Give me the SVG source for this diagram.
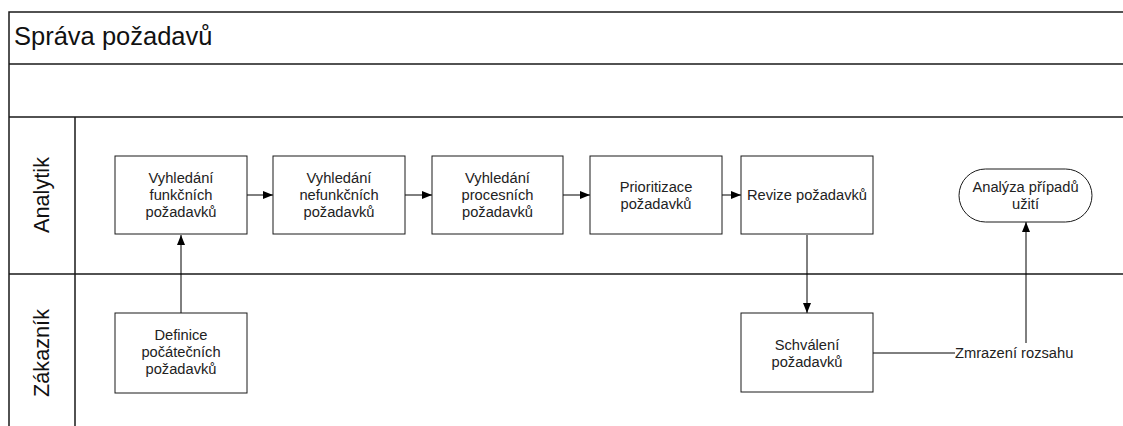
<svg xmlns="http://www.w3.org/2000/svg" width="1123" height="426" viewBox="0 0 1123 426">
  <style>
    .frame { fill: none; stroke: #1a1a1a; stroke-width: 1.5; }
    .box { fill: #ffffff; stroke: #1a1a1a; stroke-width: 1; }
    .t { font-family: "Liberation Sans", Arial, sans-serif; font-size: 14.7px; fill: #222222; text-anchor: middle; }
    .lane { font-family: "Liberation Sans", Arial, sans-serif; font-size: 21.7px; fill: #111111; text-anchor: middle; }
    .title { font-family: "Liberation Sans", Arial, sans-serif; font-size: 25.5px; fill: #111111; }
    .edge { fill: none; stroke: #000000; stroke-width: 1; }
  </style>
  <defs>
    <marker id="arrow" viewBox="0 0 10 8" refX="10" refY="4" markerWidth="10" markerHeight="8" markerUnits="userSpaceOnUse" orient="auto">
      <path d="M0,0 L10,4 L0,8 Z" fill="#000000"/>
    </marker>
  </defs>

  <rect width="1123" height="426" fill="#ffffff"/>

  <!-- pool frame and lanes -->
  <g id="pool">
    <path class="frame" d="M9,426 V12 H1123 M9,64 H1123 M9,117 H1123 M9,274 H1123 M75,117 V426"/>
    <text class="title" x="14" y="45">Správa požadavů</text>
    <text class="lane" transform="translate(49,195) rotate(-90)">Analytik</text>
    <text class="lane" transform="translate(49,353) rotate(-90)">Zákazník</text>
  </g>

  <!-- connectors -->
  <g id="connectors">
    <path class="edge" d="M247,195 H273" marker-end="url(#arrow)"/>
    <path class="edge" d="M405,195 H432" marker-end="url(#arrow)"/>
    <path class="edge" d="M563,195 H590" marker-end="url(#arrow)"/>
    <path class="edge" d="M722,195 H741" marker-end="url(#arrow)"/>
    <path class="edge" d="M181,313 V235" marker-end="url(#arrow)"/>
    <path class="edge" d="M807,235 V313" marker-end="url(#arrow)"/>
    <path class="edge" d="M873,353 H955"/>
    <path class="edge" d="M1026,343 V222" marker-end="url(#arrow)"/>
    <text class="t" x="955" y="358" style="text-anchor:start">Zmrazení rozsahu</text>
  </g>

  <g id="n1">
    <rect class="box" x="115" y="156" width="132" height="78"/>
    <text class="t" x="181" y="183">Vyhledání</text>
    <text class="t" x="181" y="200">funkčních</text>
    <text class="t" x="181" y="217">požadavků</text>
  </g>
  <g id="n2">
    <rect class="box" x="273" y="156" width="132" height="78"/>
    <text class="t" x="339" y="183">Vyhledání</text>
    <text class="t" x="339" y="200">nefunkčních</text>
    <text class="t" x="339" y="217">požadavků</text>
  </g>
  <g id="n3">
    <rect class="box" x="432" y="156" width="131" height="78"/>
    <text class="t" x="497.5" y="183">Vyhledání</text>
    <text class="t" x="497.5" y="200">procesních</text>
    <text class="t" x="497.5" y="217">požadavků</text>
  </g>
  <g id="n4">
    <rect class="box" x="590" y="156" width="132" height="78"/>
    <text class="t" x="656" y="191.5">Prioritizace</text>
    <text class="t" x="656" y="208.5">požadavků</text>
  </g>
  <g id="n5">
    <rect class="box" x="741" y="156" width="132" height="78"/>
    <text class="t" x="807" y="200">Revize požadavků</text>
  </g>
  <g id="n6">
    <rect class="box" x="959" y="169" width="133" height="53" rx="26.5" ry="26.5"/>
    <text class="t" x="1025.5" y="192">Analýza případů</text>
    <text class="t" x="1025.5" y="209">užití</text>
  </g>
  <g id="n7">
    <rect class="box" x="115" y="313" width="132" height="80"/>
    <text class="t" x="181" y="340">Definice</text>
    <text class="t" x="181" y="357">počátečních</text>
    <text class="t" x="181" y="374">požadavků</text>
  </g>
  <g id="n8">
    <rect class="box" x="741" y="313" width="132" height="79"/>
    <text class="t" x="807" y="349.5">Schválení</text>
    <text class="t" x="807" y="366.5">požadavků</text>
  </g>
</svg>
